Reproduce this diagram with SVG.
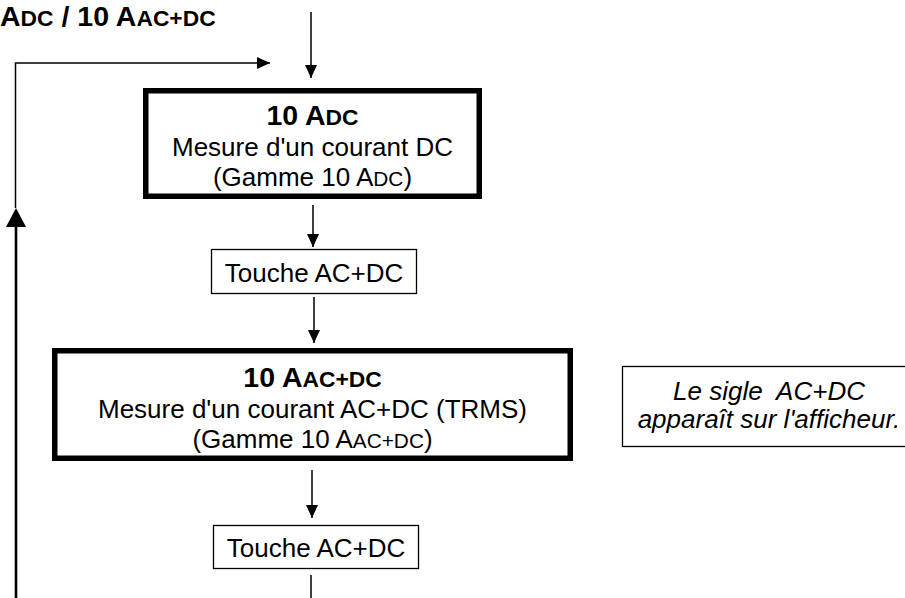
<svg xmlns="http://www.w3.org/2000/svg" width="905" height="598" viewBox="0 0 905 598">
  <style>
    text { font-family: "Liberation Sans", Arial, sans-serif; fill: #000; }
    .body { font-size: 26px; text-anchor: middle; }
    .head { font-size: 28.5px; font-weight: bold; text-anchor: middle; }
    .sc { font-size: 0.8em; }
    .note { font-size: 26px; font-style: italic; text-anchor: middle; }
    .frame { fill: #fff; stroke: #000; stroke-width: 5.5; }
    .key { fill: #fff; stroke: #000; stroke-width: 1.3; }
    .link { fill: none; stroke: #000; stroke-width: 1.5; }
  </style>
  <defs>
    <marker id="arrow" markerUnits="userSpaceOnUse" markerWidth="13" markerHeight="12" refX="13" refY="6" orient="auto">
      <path d="M0,0 L13,6 L0,12 z" fill="#000"/>
    </marker>
  </defs>
  <rect width="905" height="598" fill="#fff"/>

  <!-- title -->
  <text id="title" x="0" y="26" style="font-size:28.5px;font-weight:bold">A<tspan class="sc">DC</tspan> / 10 A<tspan class="sc">AC+DC</tspan></text>

  <!-- connectors -->
  <g id="connectors">
    <line class="link" x1="311" y1="12" x2="311" y2="78" marker-end="url(#arrow)"/>
    <line class="link" x1="313" y1="205" x2="313" y2="247" marker-end="url(#arrow)"/>
    <line class="link" x1="314" y1="297" x2="314" y2="343" marker-end="url(#arrow)"/>
    <line class="link" x1="312" y1="470" x2="312" y2="518" marker-end="url(#arrow)"/>
    <line class="link" x1="311" y1="575" x2="311" y2="598"/>
    <!-- return loop -->
    <line x1="16" y1="598" x2="16" y2="226" stroke="#000" stroke-width="2.6"/>
    <polygon points="16,208 26,227 6,227" fill="#000"/>
    <polyline class="link" points="15.5,208 15.5,63 270,63" marker-end="url(#arrow)"/>
  </g>

  <g id="range-dc">
    <rect class="frame" x="145.75" y="90.75" width="333.5" height="105.5"/>
    <text class="head" x="312.5" y="125">10 A<tspan class="sc">DC</tspan></text>
    <text class="body" x="312.5" y="156">Mesure d'un courant DC</text>
    <text class="body" x="312.5" y="186">(Gamme 10 A<tspan class="sc">DC</tspan>)</text>
  </g>

  <g id="key-1">
    <rect class="key" x="211.5" y="249.5" width="205" height="44"/>
    <text class="body" x="314" y="282">Touche AC+DC</text>
  </g>

  <g id="range-acdc">
    <rect class="frame" x="54.75" y="350.75" width="515.5" height="107.5"/>
    <text class="head" x="312.5" y="387">10 A<tspan class="sc">AC+DC</tspan></text>
    <text class="body" x="312.5" y="418">Mesure d'un courant AC+DC (TRMS)</text>
    <text class="body" x="312.5" y="448">(Gamme 10 A<tspan class="sc">AC+DC</tspan>)</text>
  </g>

  <g id="key-2">
    <rect class="key" x="213.5" y="525.5" width="205" height="43"/>
    <text class="body" x="316" y="557">Touche AC+DC</text>
  </g>

  <g id="note">
    <rect class="key" x="622.5" y="366.5" width="300" height="80"/>
    <text class="note" x="769" y="400" xml:space="preserve">Le sigle  AC+DC</text>
    <text class="note" x="769" y="428">apparaît sur l'afficheur.</text>
  </g>
</svg>
